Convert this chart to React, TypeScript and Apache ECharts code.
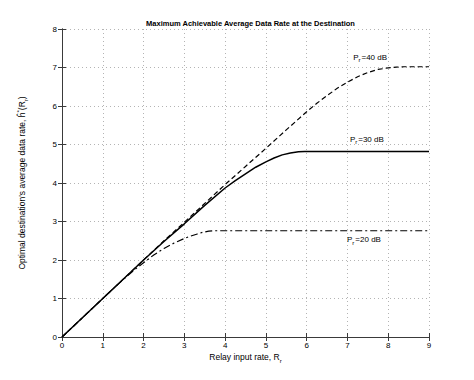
import React, { useEffect, useRef } from "react";
import * as echarts from "echarts";

// Relay input rate R_r (x) and optimal average data rate (y) for each relay power
const xP40 = [0, 2.5, 3, 3.5, 4, 4.5, 5, 5.5, 6, 6.25, 6.5, 6.75, 7, 7.25, 7.5, 7.75, 8, 8.2, 8.4, 9];
const yP40 = [0, 2.5, 2.98, 3.47, 3.96, 4.43, 4.9, 5.38, 5.85, 6.07, 6.27, 6.46, 6.62, 6.76, 6.87, 6.95, 6.99, 7.01, 7.02, 7.02];

const xP30 = [0, 2, 2.5, 3, 3.5, 4, 4.25, 4.5, 4.75, 5, 5.2, 5.4, 5.6, 5.8, 5.95, 9];
const yP30 = [0, 2, 2.48, 2.94, 3.42, 3.87, 4.06, 4.24, 4.41, 4.55, 4.65, 4.73, 4.78, 4.81, 4.82, 4.82];

const xP20 = [0, 1.2, 1.5, 1.75, 2, 2.25, 2.5, 2.75, 3, 3.15, 3.3, 3.45, 3.6, 3.75, 9];
const yP20 = [0, 1.2, 1.49, 1.72, 1.93, 2.13, 2.3, 2.44, 2.56, 2.62, 2.67, 2.72, 2.75, 2.76, 2.76];

const xTicks = [0, 1, 2, 3, 4, 5, 6, 7, 8, 9];
const yTicks = [0, 1, 2, 3, 4, 5, 6, 7, 8];

const labelText = ["=40 dB", "=30 dB", "=20 dB"];
const labelAnchorX = [7.14, 7.06, 6.99];
const labelAnchorY = [7.26, 5.13, 2.52];

const FONT = "'Liberation Sans', Arial, Helvetica, sans-serif";

function pairs(xs: number[], ys: number[]) {
  return xs.map((x, i) => [x, ys[i]]);
}

export default function App() {
  const ref = useRef<HTMLDivElement>(null);
  useEffect(() => {
    if (!ref.current) return;
    const chart = echarts.init(ref.current, undefined, { renderer: "svg" });
    const axisColor = "#3a3a3a";
    const gridStyle = { color: "#b4b4b4", width: 1, type: [1, 3] as any };
    const common = {
      axisLine: { show: true, lineStyle: { color: axisColor, width: 1 } },
      axisTick: { show: true, inside: true, length: 4, lineStyle: { color: axisColor } },
    };
    const lineBase = { type: "line", showSymbol: false, symbol: "none", smooth: false, z: 5 };
    chart.setOption({
      animation: false,
      backgroundColor: "#ffffff",
      title: {
        text: "Maximum Achievable Average Data Rate at the Destination",
        left: 245.5,
        textAlign: "center",
        top: 14,
        textStyle: { fontFamily: FONT, fontSize: 7.5, fontWeight: "bold", color: "#000" },
      },
      grid: { left: 62, right: 45, top: 29, bottom: 43, containLabel: false },
      xAxis: [
        {
          type: "value",
          min: 0,
          max: 9,
          interval: 1,
          position: "bottom",
          ...common,
          axisLabel: { fontFamily: FONT, fontSize: 8, color: "#000", margin: 4, formatter: (v: number) => (xTicks.includes(v) ? String(v) : "") },
          splitLine: { show: true, lineStyle: gridStyle },
        },
        {
          type: "value",
          min: 0,
          max: 9,
          interval: 1,
          position: "top",
          ...common,
          axisLabel: { show: false },
          splitLine: { show: false },
        },
      ],
      yAxis: [
        {
          type: "value",
          min: 0,
          max: 8,
          interval: 1,
          position: "left",
          ...common,
          axisLabel: { fontFamily: FONT, fontSize: 8, color: "#000", margin: 5, formatter: (v: number) => (yTicks.includes(v) ? String(v) : "") },
          splitLine: { show: true, lineStyle: gridStyle },
        },
        {
          type: "value",
          min: 0,
          max: 8,
          interval: 1,
          position: "right",
          ...common,
          axisLabel: { show: false },
          splitLine: { show: false },
        },
      ],
      series: [
        {
          ...lineBase,
          name: "Pr=40 dB",
          data: pairs(xP40, yP40),
          lineStyle: { color: "#000", width: 1.2, type: [5, 3] },
        },
        {
          ...lineBase,
          name: "Pr=30 dB",
          data: pairs(xP30, yP30),
          lineStyle: { color: "#000", width: 1.5, type: "solid" },
        },
        {
          ...lineBase,
          name: "Pr=20 dB",
          data: pairs(xP20, yP20),
          lineStyle: { color: "#000", width: 1.2, type: [7, 3, 2, 3] },
        },
      ],
    });

    const rich = {
      p: { fontFamily: FONT, fontSize: 8, color: "#000", lineHeight: 12, verticalAlign: "middle" },
      s: { fontFamily: FONT, fontSize: 6, color: "#000", lineHeight: 12, padding: [7, 1, 0, 0], verticalAlign: "bottom" },
    };
    const texts = labelText.map((t, i) => {
      const [px, py] = chart.convertToPixel({ gridIndex: 0 }, [labelAnchorX[i], labelAnchorY[i]]) as number[];
      return {
        type: "text",
        x: px,
        y: py,
        style: { text: `{p|P}{s|r}{p|${t}}`, rich, verticalAlign: "middle", align: "left" },
        z: 10,
      };
    });
    const yLabel = {
      type: "text",
      x: 22,
      y: 183,
      rotation: Math.PI / 2,
      style: {
        text: "{p|Optimal destination's average data rate, ĥ}{sup|*}{p|(R}{s|r}{p|)}",
        rich: {
          p: { fontFamily: FONT, fontSize: 8.5, color: "#000", lineHeight: 12 },
          s: { fontFamily: FONT, fontSize: 6, color: "#000", lineHeight: 12, padding: [7, 0, 0, 0] },
          sup: { fontFamily: FONT, fontSize: 6, color: "#000", lineHeight: 12, padding: [0, 0, 6, 0] },
        },
        align: "center",
        verticalAlign: "middle",
      },
    };
    const xLabel = {
      type: "text",
      x: 245.5,
      y: 357,
      style: {
        text: "{p|Relay input rate, R}{s|r}",
        rich: {
          p: { fontFamily: FONT, fontSize: 8.5, color: "#000", lineHeight: 12 },
          s: { fontFamily: FONT, fontSize: 6, color: "#000", lineHeight: 12, padding: [7, 0, 0, 0] },
        },
        align: "center",
        verticalAlign: "middle",
      },
    };
    chart.setOption({ graphic: [...texts, yLabel, xLabel] });
    return () => chart.dispose();
  }, []);
  return (
    <div
      ref={ref}
      style={{ position: "fixed", left: 0, top: 0, width: 474, height: 380, background: "#fff" }}
    />
  );
}
